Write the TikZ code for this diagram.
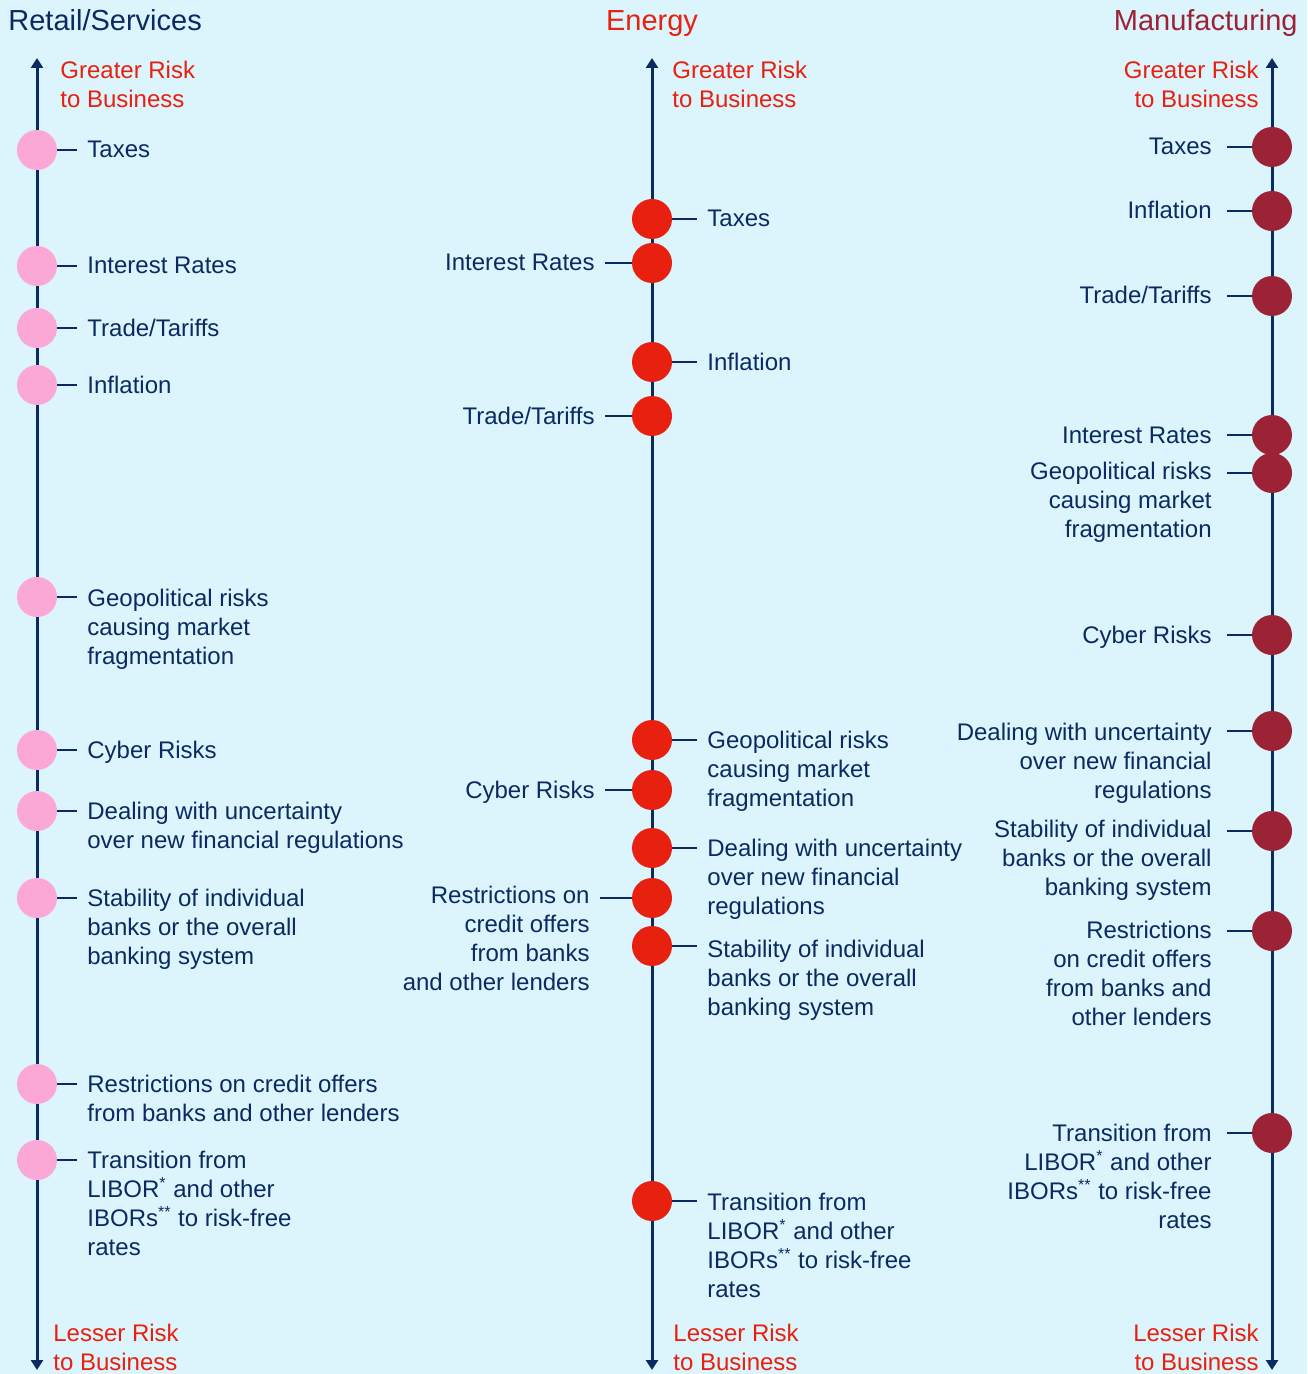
\documentclass[tikz,border=0pt]{standalone}
\usepackage{fontspec}
\setmainfont{Liberation Sans}
\usetikzlibrary{arrows.meta}
\definecolor{fondo}{HTML}{DCF4FC}
\definecolor{marino}{HTML}{0B2A62}
\definecolor{rojo}{HTML}{E8200F}
\definecolor{rosa}{HTML}{FBA8D6}
\definecolor{granate}{HTML}{9C2236}
\tikzset{
	eje/.style={marino, line width=1.5pt, {Triangle[length=5pt,width=6pt]}-{Triangle[length=5pt,width=6pt]}}, % Ejes con flecha en ambos extremos
	punto/.style={circle, minimum size=20pt, inner sep=0pt}, % Circulos de cada riesgo
	raya/.style={marino, line width=1pt}, % Trazo entre circulo y texto
	txt/.style={marino, inner ysep=0pt, inner xsep=5pt, font=\fontsize{12}{14.5}\selectfont}, % Texto de los riesgos
	der/.style={txt, anchor=base west, align=left}, % Texto a la derecha del eje
	izq/.style={txt, anchor=base east, align=right}, % Texto a la izquierda del eje
	izqm/.style={izq, inner xsep=7.5pt}, % Texto a la izquierda, columna de manufactura
	riesgo/.style={rojo, inner sep=0pt, font=\fontsize{12}{14.5}\selectfont}, % Mayor / menor riesgo
	titulo/.style={inner sep=0pt, font=\fontsize{14.5}{17}\selectfont} % Titulos de columna
}

\begin{document}
\begin{tikzpicture}[x=0.5pt, y=-0.5pt]
	\fill[fondo] (0,0) rectangle (1307,1374);
	\useasboundingbox (0,0) rectangle (1307,1374);

	% titulos
	\node[titulo, marino, anchor=base west] (tr) at (8,31) {Retail/Services};
	\node[titulo, rojo, anchor=base] (te) at (652,31) {Energy};
	\node[titulo, granate, anchor=base east] (tm) at (1298,31) {Manufacturing};

	% ejes
	\coordinate (rtop) at (37,58);	\coordinate (rbot) at (37,1370);
	\coordinate (etop) at (652,58);	\coordinate (ebot) at (652,1370);
	\coordinate (mtop) at (1272,58);	\coordinate (mbot) at (1272,1370);
	\draw[eje] (rbot) -- (rtop);
	\draw[eje] (ebot) -- (etop);
	\draw[eje] (mbot) -- (mtop);

	% la base de un texto de varias lineas es la ultima linea
	\node[riesgo, anchor=base west, align=left] (gr) at (60,108) {Greater Risk\\to Business};
	\node[riesgo, anchor=base west, align=left] (ge) at (672,108) {Greater Risk\\to Business};
	\node[riesgo, anchor=base east, align=right] (gm) at (1259,108) {Greater Risk\\to Business};
	\node[riesgo, anchor=base west, align=left] (lr) at (53,1370) {Lesser Risk\\to Business};
	\node[riesgo, anchor=base west, align=left] (le) at (673,1370) {Lesser Risk\\to Business};
	\node[riesgo, anchor=base east, align=right] (lm) at (1259,1370) {Lesser Risk\\to Business};

	% Retail/Services
	\node[punto, fill=rosa] (r1) at (37,150) {};
	\node[punto, fill=rosa] (r2) at (37,266) {};
	\node[punto, fill=rosa] (r3) at (37,328) {};
	\node[punto, fill=rosa] (r4) at (37,385) {};
	\node[punto, fill=rosa] (r5) at (37,597) {};
	\node[punto, fill=rosa] (r6) at (37,750) {};
	\node[punto, fill=rosa] (r7) at (37,811) {};
	\node[punto, fill=rosa] (r8) at (37,898) {};
	\node[punto, fill=rosa] (r9) at (37,1084) {};
	\node[punto, fill=rosa] (r10) at (37,1160) {};
	\node[der] (tr1) at (77,158) {Taxes};
	\node[der] (tr2) at (77,274) {Interest Rates};
	\node[der] (tr3) at (77,336) {Trade/Tariffs};
	\node[der] (tr4) at (77,393) {Inflation};
	\node[der] (tr5) at (77,664) {Geopolitical risks\\causing market\\fragmentation};
	\node[der] (tr6) at (77,758) {Cyber Risks};
	\node[der] (tr7) at (77,848) {Dealing with uncertainty\\over new financial regulations};
	\node[der] (tr8) at (77,964) {Stability of individual\\banks or the overall\\banking system};
	\node[der] (tr9) at (77,1121) {Restrictions on credit offers\\from banks and other lenders};
	\node[der] (tr10) at (77,1255) {Transition from\\LIBOR\textsuperscript{*} and other\\IBORs\textsuperscript{**} to risk-free\\rates};
	\foreach \i in {1,...,10}
		\draw[raya] (r\i.east) -- (r\i.east -| tr\i.west);

	% Energy
	\node[punto, fill=rojo] (e1) at (652,219) {};
	\node[punto, fill=rojo] (e2) at (652,263) {};
	\node[punto, fill=rojo] (e3) at (652,362) {};
	\node[punto, fill=rojo] (e4) at (652,416) {};
	\node[punto, fill=rojo] (e5) at (652,740) {};
	\node[punto, fill=rojo] (e6) at (652,790) {};
	\node[punto, fill=rojo] (e7) at (652,848) {};
	\node[punto, fill=rojo] (e8) at (652,898) {};
	\node[punto, fill=rojo] (e9) at (652,946) {};
	\node[punto, fill=rojo] (e10) at (652,1201) {};
	\node[der] (te1) at (697,227) {Taxes};
	\node[izq] (te2) at (605,271) {Interest Rates};
	\node[der] (te3) at (697,370) {Inflation};
	\node[izq] (te4) at (605,424) {Trade/Tariffs};
	\node[der] (te5) at (697,806) {Geopolitical risks\\causing market\\fragmentation};
	\node[izq] (te6) at (605,798) {Cyber Risks};
	\node[der] (te7) at (697,914) {Dealing with uncertainty\\over new financial\\regulations};
	\node[izq] (te8) at (600,990) {Restrictions on\\credit offers\\from banks\\and other lenders};
	\node[der] (te9) at (697,1015) {Stability of individual\\banks or the overall\\banking system};
	\node[der] (te10) at (697,1297) {Transition from\\LIBOR\textsuperscript{*} and other\\IBORs\textsuperscript{**} to risk-free\\rates};
	\draw[raya]	(e1.east) -- (e1.east -| te1.west)
			(e2.west) -- (e2.west -| te2.east)
			(e3.east) -- (e3.east -| te3.west)
			(e4.west) -- (e4.west -| te4.east)
			(e5.east) -- (e5.east -| te5.west)
			(e6.west) -- (e6.west -| te6.east)
			(e7.east) -- (e7.east -| te7.west)
			(e8.west) -- (e8.west -| te8.east)
			(e9.east) -- (e9.east -| te9.west)
			(e10.east) -- (e10.east -| te10.west);

	% Manufacturing
	\node[punto, fill=granate] (m1) at (1272,147) {};
	\node[punto, fill=granate] (m2) at (1272,211) {};
	\node[punto, fill=granate] (m3) at (1272,296) {};
	\node[punto, fill=granate] (m4) at (1272,435) {};
	\node[punto, fill=granate] (m5) at (1272,473) {};
	\node[punto, fill=granate] (m6) at (1272,635) {};
	\node[punto, fill=granate] (m7) at (1272,731) {};
	\node[punto, fill=granate] (m8) at (1272,831) {};
	\node[punto, fill=granate] (m9) at (1272,931) {};
	\node[punto, fill=granate] (m10) at (1272,1133) {};
	\node[izqm] (tm1) at (1227,155) {Taxes};
	\node[izqm] (tm2) at (1227,219) {Inflation};
	\node[izqm] (tm3) at (1227,304) {Trade/Tariffs};
	\node[izqm] (tm4) at (1227,443) {Interest Rates};
	\node[izqm] (tm5) at (1227,537) {Geopolitical risks\\causing market\\fragmentation};
	\node[izqm] (tm6) at (1227,643) {Cyber Risks};
	\node[izqm] (tm7) at (1227,798) {Dealing with uncertainty\\over new financial\\regulations};
	\node[izqm] (tm8) at (1227,895) {Stability of individual\\banks or the overall\\banking system};
	\node[izqm] (tm9) at (1227,1025) {Restrictions\\on credit offers\\from banks and\\other lenders};
	\node[izqm] (tm10) at (1227,1228) {Transition from\\LIBOR\textsuperscript{*} and other\\IBORs\textsuperscript{**} to risk-free\\rates};
	\foreach \i in {1,...,10}
		\draw[raya] (m\i.west) -- (m\i.west -| tm\i.east);
\end{tikzpicture}
\end{document}
